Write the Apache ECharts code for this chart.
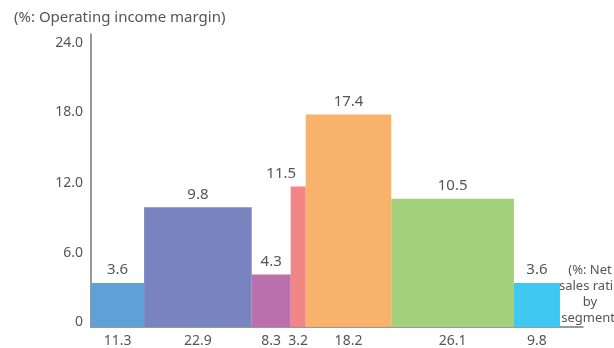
<!DOCTYPE html>
<html>
<head>
<meta charset="utf-8">
<script src="https://cdn.jsdelivr.net/npm/echarts@6/dist/echarts.min.js"></script>
<style>
  html, body { margin: 0; padding: 0; background: #fff; }
  #chart { width: 614px; height: 348px; }
</style>
</head>
<body>
<div id="chart"></div>
<script>
// net sales ratio by segment (%) -> bar widths
const salesRatio = [11.3, 22.9, 8.3, 3.2, 18.2, 26.1, 9.8];
// operating income margin (%) -> bar heights
const incomeMargin = [3.6, 9.8, 4.3, 11.5, 17.4, 10.5, 3.6];
const segColors = ['#5FA0D6', '#7983C0', '#BA70AA', '#F28585', '#F9B26B', '#A3D07A', '#3FC8F2'];
const yTicks = [0, 6, 12, 18, 24];

const textColor = '#555';
const font = '"Noto Sans", sans-serif';

// build [start, end, height, width] per segment
let acc = 0;
const rows = salesRatio.map((w, i) => {
  const row = [acc, acc + w, incomeMargin[i], w];
  acc += w;
  return row;
});

function renderItem(params, api) {
  const i = params.dataIndex;
  const p0 = api.coord([api.value(0), 0]);
  const p1 = api.coord([api.value(1), api.value(2)]);
  const cx = (p0[0] + p1[0]) / 2;
  const dx = i === 3 ? -17 : 0; // narrow bar, label pushed left
  return {
    type: 'group',
    children: [
      {
        type: 'rect',
        shape: { x: p0[0], y: p1[1], width: p1[0] - p0[0], height: p0[1] - p1[1] },
        style: { fill: segColors[i] }
      },
      {
        type: 'text',
        style: {
          x: cx + dx, y: p1[1] - 13,
          text: api.value(2).toFixed(1),
          align: 'center', verticalAlign: 'middle',
          fill: textColor, font: '15px ' + font
        }
      },
      {
        type: 'text',
        style: {
          x: cx, y: p0[1] + 14,
          text: api.value(3).toFixed(1),
          align: 'center', verticalAlign: 'middle',
          fill: textColor, font: '14px ' + font
        }
      }
    ]
  };
}

// tick labels in the original sit slightly off the exact tick positions
const labelShift = { 0: -5, 6: -1, 12: 3, 18: 5, 24: 9 };
const rich = {};
yTicks.forEach(t => {
  const d = labelShift[t];
  rich['t' + t] = {
    color: textColor, fontFamily: font, fontSize: 14,
    padding: d >= 0 ? [2 * d, 0, 0, 0] : [0, 0, -2 * d, 0]
  };
});

const chart = echarts.init(document.getElementById('chart'));
chart.setOption({
  animation: false,
  grid: { left: 91, right: 31, top: 34, bottom: 21 },
  xAxis: {
    type: 'value',
    min: 0,
    max: 104.7,
    axisLine: { show: true, lineStyle: { color: '#777', width: 1.5 } },
    axisTick: { show: false },
    axisLabel: { show: false },
    splitLine: { show: false }
  },
  yAxis: {
    type: 'value',
    min: yTicks[0],
    max: yTicks[yTicks.length - 1],
    interval: 6,
    axisLine: { show: true, lineStyle: { color: '#777', width: 1.5 } },
    axisTick: { show: false },
    splitLine: { show: false },
    axisLabel: {
      color: textColor,
      fontFamily: font,
      fontSize: 14,
      margin: 8,
      rich: rich,
      formatter: v => '{t' + v + '|' + (v === 0 ? '0' : v.toFixed(1)) + '}'
    }
  },
  graphic: [
    {
      type: 'text', left: 14, top: 10,
      style: { text: '(%: Operating income margin)', fill: textColor, font: '15px ' + font }
    },
    {
      type: 'text', x: 590, y: 262,
      style: {
        text: '(%: Net\nsales ratio\nby\nsegment)',
        align: 'center', fill: textColor, font: '13px ' + font, lineHeight: 16
      }
    }
  ],
  series: [{
    type: 'custom',
    renderItem: renderItem,
    encode: { x: [0, 1], y: 2 },
    data: rows
  }]
});
</script>
</body>
</html>
